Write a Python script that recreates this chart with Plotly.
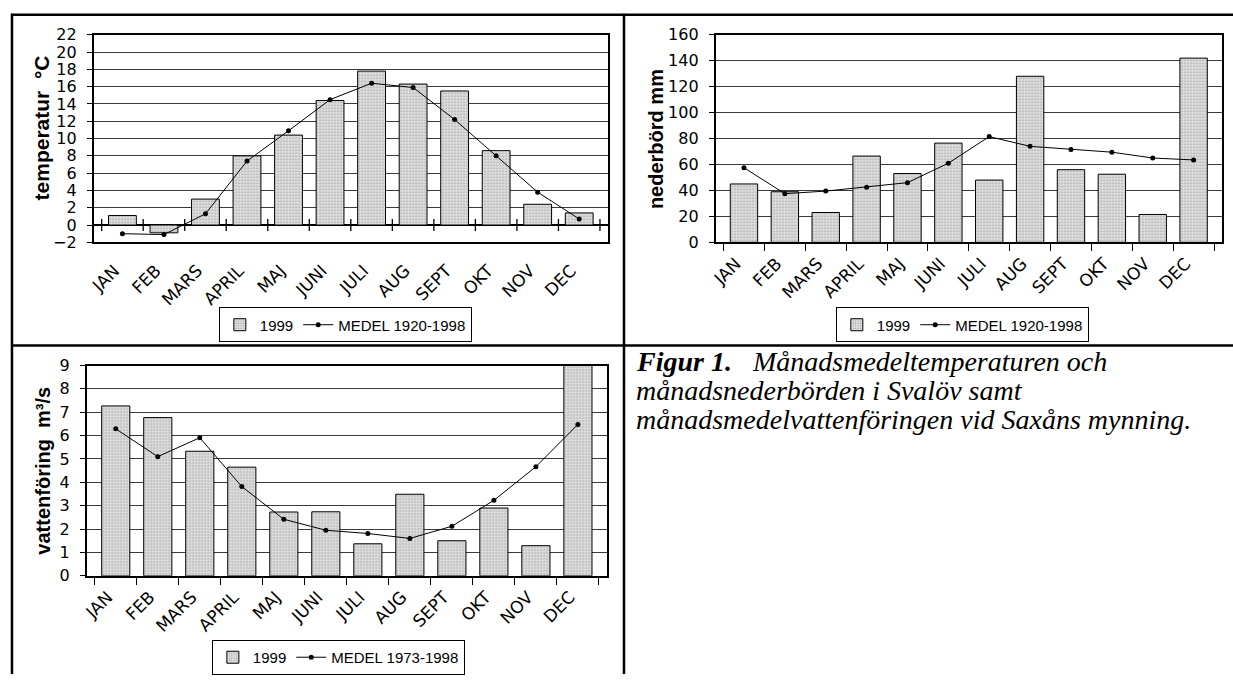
import plotly.graph_objects as go

W, H = 1233, 684

months = ["JAN", "FEB", "MARS", "APRIL", "MAJ", "JUNI", "JULI", "AUG", "SEPT", "OKT", "NOV", "DEC"]

temp_1999 = [1.1, -0.9, 3.0, 8.0, 10.4, 14.4, 17.8, 16.3, 15.5, 8.6, 2.4, 1.4]
temp_medel = [-1.0, -1.1, 1.3, 7.4, 10.9, 14.5, 16.4, 15.9, 12.2, 8.0, 3.8, 0.7]

prec_1999 = [45, 39, 23, 66.5, 53, 76.5, 48, 128, 56, 52.5, 21.5, 142]
prec_medel = [57.5, 37.5, 39.5, 42.5, 46, 61, 81.5, 74, 71.5, 69.5, 65, 63.5]

flow_1999 = [7.27, 6.77, 5.33, 4.65, 2.73, 2.74, 1.37, 3.49, 1.5, 2.9, 1.29, 9.07]
flow_medel = [6.29, 5.1, 5.91, 3.82, 2.42, 1.95, 1.81, 1.6, 2.12, 3.23, 4.67, 6.48]

legend_bar = "1999"
legend_line_1 = "MEDEL 1920-1998"
legend_line_3 = "MEDEL 1973-1998"

title_1 = "temperatur\u00a0\u00a0°C"
title_2 = "nederbörd mm"
title_3 = "vattenföring\u00a0\u00a0m³/s"

caption_lines = [
    "<b><i>Figur 1.</i></b>\u00a0\u00a0\u00a0<i>Månadsmedeltemperaturen och</i>",
    "<i>månadsnederbörden i Svalöv samt</i>",
    "<i>månadsmedelvattenföringen vid Saxåns mynning.</i>",
]

FONT = "DejaVu Sans, Liberation Sans, sans-serif"
TFONT = "Liberation Sans, Arial, sans-serif"
SERIF = "Liberation Serif, Times New Roman, serif"

def px_x(v):
    return v / W

def px_y(v):
    return 1 - v / H

panels = [
    dict(bar=temp_1999, line=temp_medel, lname=legend_line_1, rng=[-2, 22], dtick=2,
         xd=[px_x(88), px_x(605)], yd=[px_y(240), px_y(26.5)], title=title_1, tsize=21,
         tx=36, ty=122, leg=(px_x(341), px_y(325))),
    dict(bar=prec_1999, line=prec_medel, lname=legend_line_1, rng=[0, 160], dtick=20,
         xd=[px_x(713), px_x(1222)], yd=[px_y(240), px_y(26.5)], title=title_2, tsize=20,
         tx=653, ty=134, leg=(px_x(961), px_y(325))),
    dict(bar=flow_1999, line=flow_medel, lname=legend_line_3, rng=[0, 9], dtick=1,
         xd=[px_x(81), px_x(604)], yd=[px_y(583), px_y(366.7)], title=title_3, tsize=20,
         tx=37, ty=475, leg=(px_x(334), px_y(667))),
]

fig = go.Figure()
annotations = []
shapes = []

for i, p in enumerate(panels):
    n = i + 1
    xa = "x" if n == 1 else f"x{n}"
    ya = "y" if n == 1 else f"y{n}"
    lg = "legend" if n == 1 else f"legend{n}"
    fig.add_trace(go.Bar(
        x=months, y=p["bar"], name=legend_bar, xaxis=xa, yaxis=ya, legend=lg,
        cliponaxis=False,
        marker=dict(color="#d8d8d8", line=dict(color="black", width=1),
                    pattern=dict(shape=".", fgcolor="#6e6e6e", bgcolor="#e4e4e4", size=3, solidity=0.35)),
    ))
    fig.add_trace(go.Scatter(
        x=months, y=p["line"], name=p["lname"], xaxis=xa, yaxis=ya, legend=lg,
        mode="lines+markers", line=dict(color="black", width=1),
        marker=dict(color="black", size=5),
    ))
    xkey = "xaxis" if n == 1 else f"xaxis{n}"
    ykey = "yaxis" if n == 1 else f"yaxis{n}"
    fig.layout[xkey] = dict(
        domain=p["xd"], anchor=ya, type="category",
        showline=True, mirror=True, linecolor="black", linewidth=1.5,
        ticks="" if n == 1 else "outside", tickson="boundaries", ticklen=7, tickcolor="black",
        tickangle=-45, tickfont=dict(family=FONT, size=17, color="black"),
        ticklabelstandoff=10 if n == 1 else 3, ticklabelshift=-8,
        showgrid=False,
    )
    fig.layout[ykey] = dict(
        domain=p["yd"], anchor=xa, range=p["rng"], dtick=p["dtick"],
        showline=True, mirror=True, linecolor="black", linewidth=1.5,
        ticks="outside", ticklen=5, tickcolor="black",
        showgrid=True, gridcolor="#3a3a3a", gridwidth=1.3,
        zeroline=(n == 1), zerolinecolor="black", zerolinewidth=1.5,
        tickfont=dict(family=FONT, size=16, color="black"),
        ticklabelstandoff=7,
    )
    annotations.append(dict(
        text=f"<b>{p['title']}</b>", xref="paper", yref="paper",
        x=px_x(p["tx"]), y=px_y(p["ty"]), textangle=-90,
        showarrow=False, font=dict(family=TFONT, size=p["tsize"], color="black"),
        xanchor="center", yanchor="middle",
    ))
    fig.layout[lg] = dict(
        x=p["leg"][0], y=p["leg"][1], xanchor="center", yanchor="middle",
        orientation="h", bordercolor="black", borderwidth=1, bgcolor="white",
        font=dict(family=TFONT, size=15, color="black"), itemwidth=30,
        tracegroupgap=0,
    )

# crossing tick marks on the zero line in panel 1
for k in range(len(months) + 1):
    shapes.append(dict(type="line", xref="x", yref="y", x0=k - 0.5, x1=k - 0.5,
                       ysizemode="pixel", yanchor=0, y0=-6, y1=6,
                       line=dict(color="black", width=1.3)))

# table frame
frame = dict(color="black", width=2.5)
shapes += [
    dict(type="line", xref="paper", yref="paper", x0=px_x(5), x1=1, y0=px_y(6), y1=px_y(6), line=frame),
    dict(type="line", xref="paper", yref="paper", x0=px_x(6), x1=px_x(6), y0=px_y(5), y1=0, line=frame),
    dict(type="line", xref="paper", yref="paper", x0=px_x(621), x1=px_x(621), y0=px_y(5), y1=0, line=frame),
    dict(type="line", xref="paper", yref="paper", x0=px_x(5), x1=1, y0=px_y(346), y1=px_y(346), line=frame),
]

for j, line in enumerate(caption_lines):
    annotations.append(dict(
        text=line, xref="paper", yref="paper", x=px_x(631), y=px_y(363 + 29.5 * j),
        xanchor="left", yanchor="middle", align="left", showarrow=False,
        font=dict(family=SERIF, size=28, color="black"),
    ))

fig.update_layout(
    width=W, height=H, margin=dict(l=0, r=0, t=0, b=0),
    paper_bgcolor="white", plot_bgcolor="white",
    bargap=0.33, showlegend=True,
    annotations=annotations, shapes=shapes,
)

fig.write_html("out.html", config={"displayModeBar": False},
               post_script="document.body.style.margin='0px';")
